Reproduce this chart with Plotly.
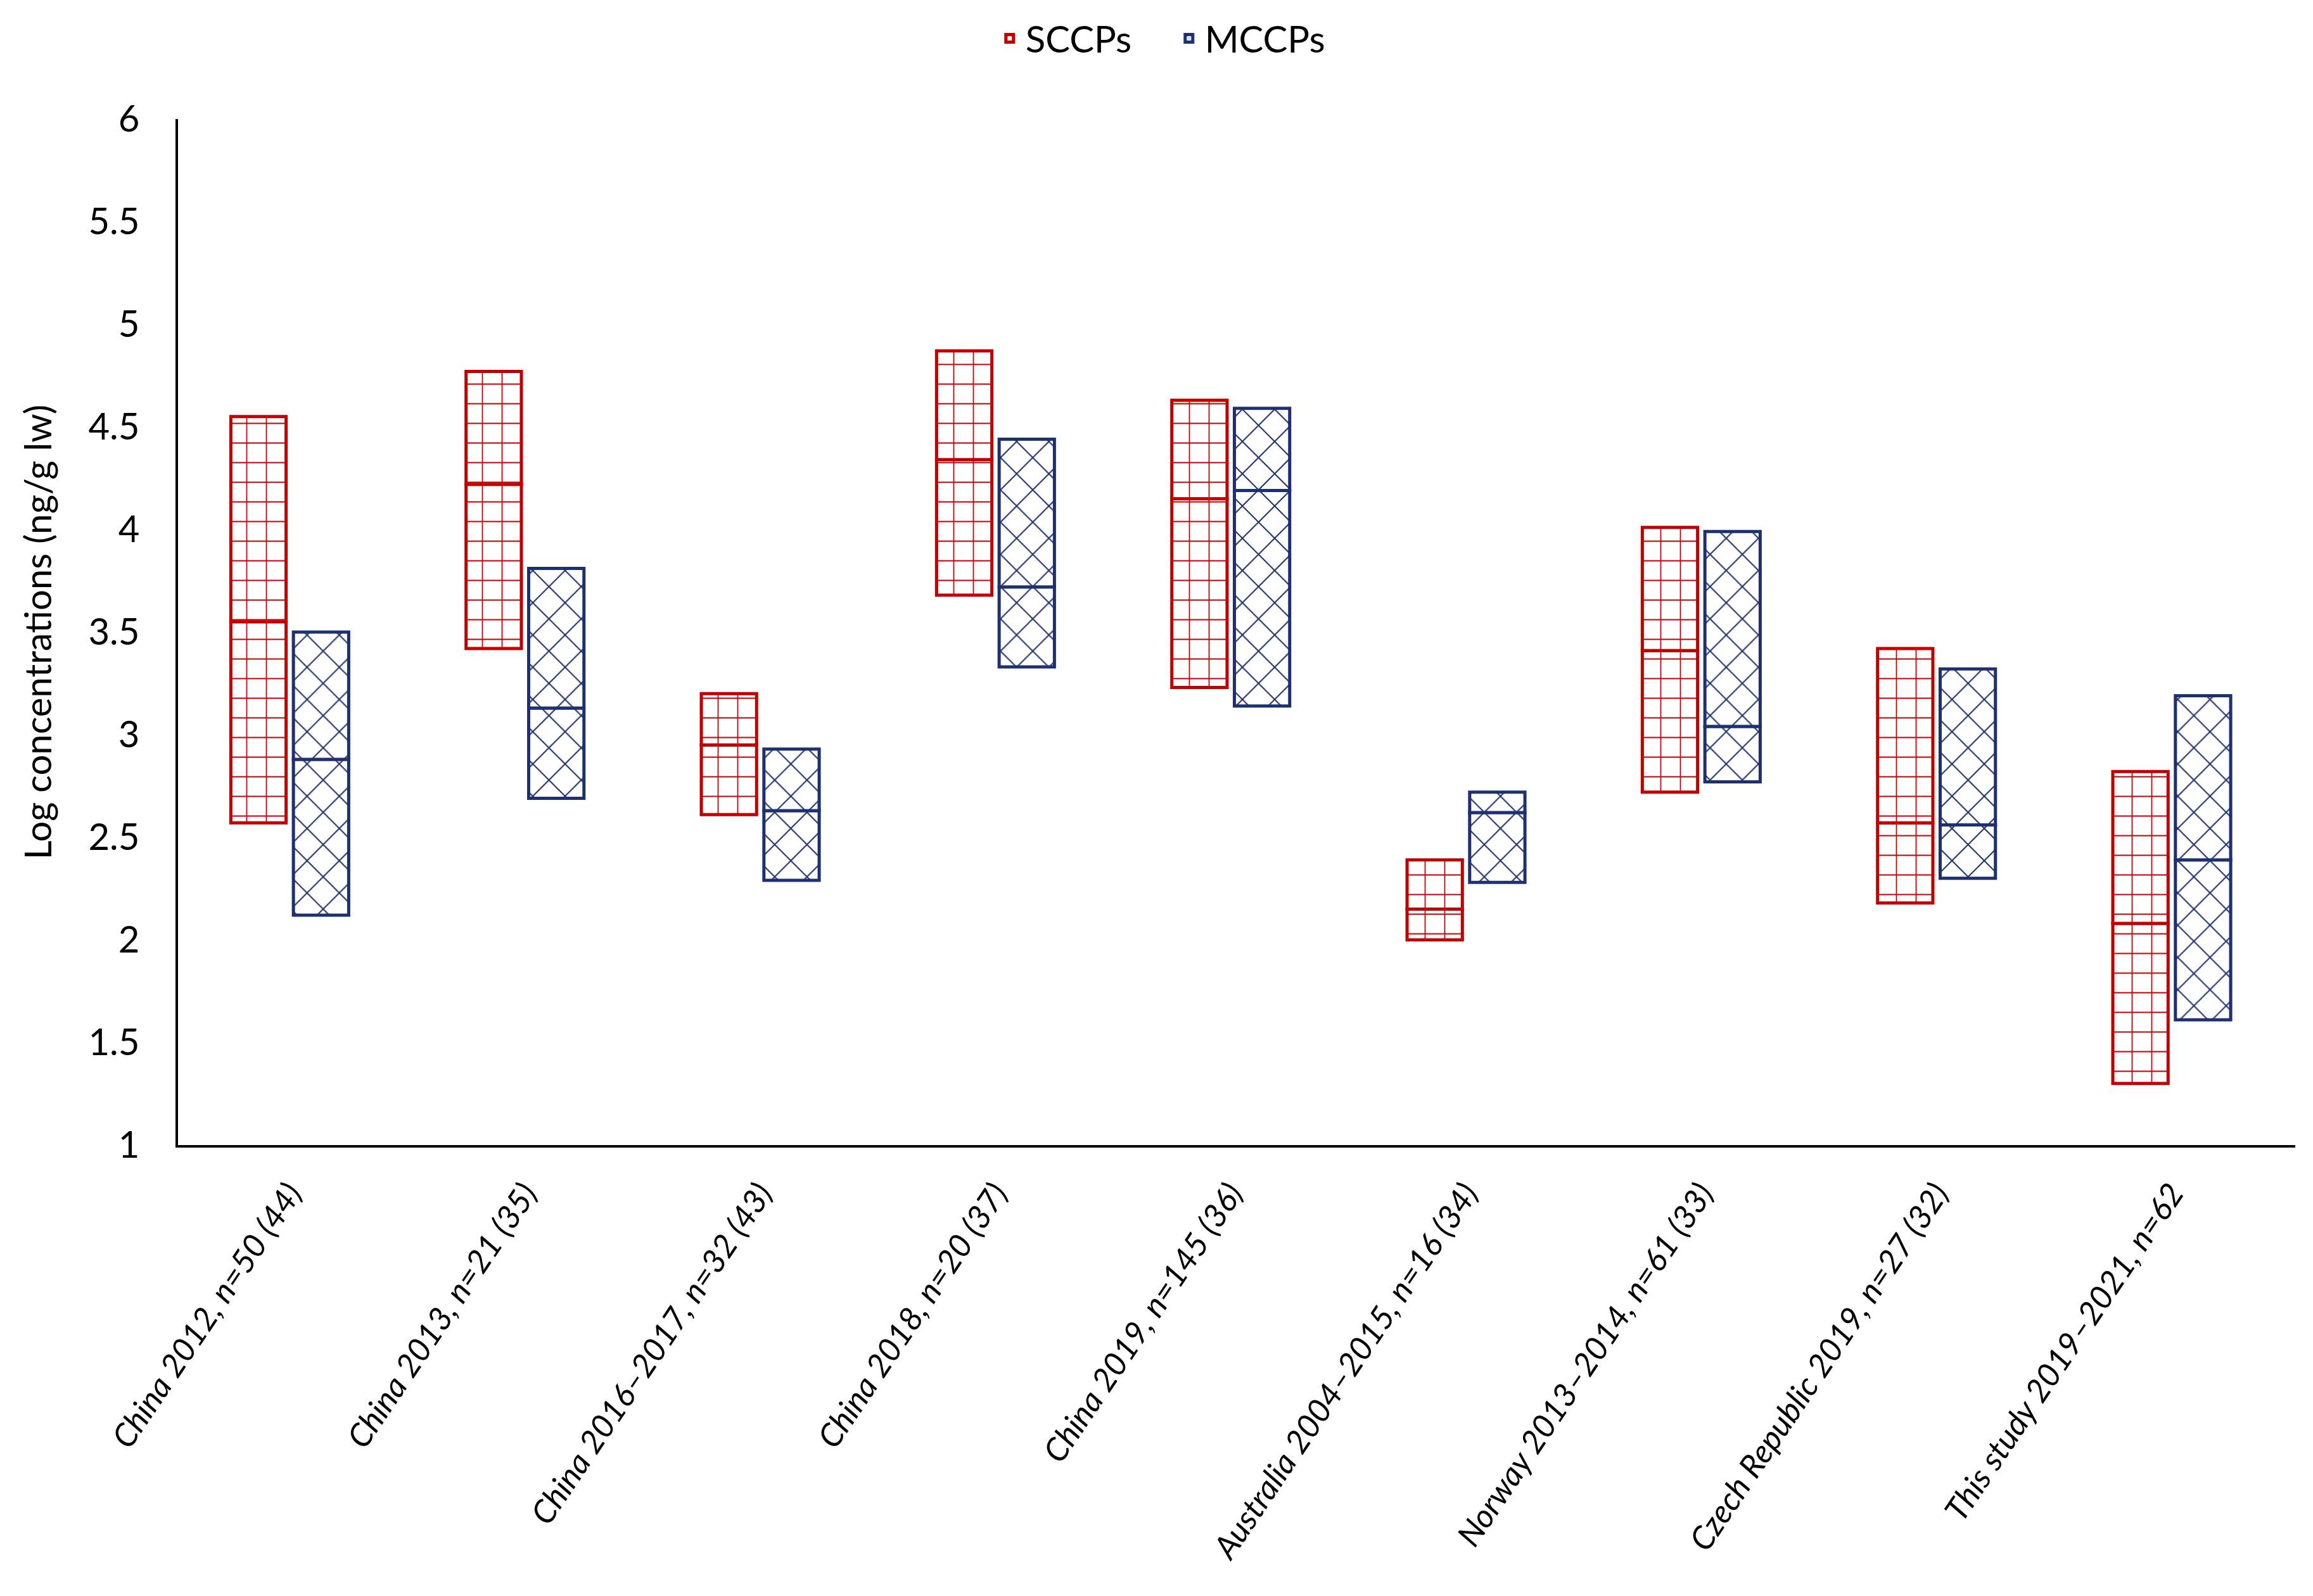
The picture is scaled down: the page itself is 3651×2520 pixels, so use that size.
import plotly.graph_objects as go

categories = [
    "China 2012, n=50 (44)",
    "China 2013, n=21 (35)",
    "China 2016–2017, n=32 (43)",
    "China 2018, n=20 (37)",
    "China 2019, n=145 (36)",
    "Australia 2004–2015, n=16 (34)",
    "Norway 2013–2014, n=61 (33)",
    "Czech Republic 2019, n=27 (32)",
    "This study 2019–2021, n=62",
]

sccp_low = [2.57, 3.42, 2.61, 3.68, 3.23, 2.00, 2.72, 2.18, 1.30]
sccp_med = [3.55, 4.22, 2.95, 4.34, 4.15, 2.15, 3.41, 2.57, 2.08]
sccp_high = [4.55, 4.77, 3.20, 4.87, 4.63, 2.39, 4.01, 3.42, 2.82]

mccp_low = [2.12, 2.69, 2.29, 3.33, 3.14, 2.28, 2.77, 2.30, 1.61]
mccp_med = [2.88, 3.13, 2.63, 3.72, 4.19, 2.62, 3.04, 2.56, 2.39]
mccp_high = [3.50, 3.81, 2.93, 4.44, 4.59, 2.72, 3.99, 3.32, 3.19]

RED = "#C00000"
NAVY = "#1F3070"
FONT = "Lato"

x_idx = list(range(len(categories)))
offset = 0.133
bw = 0.235

fig = go.Figure()


def add_series(name, low, med, high, color, shape, size, dx):
    xs = [i + dx for i in x_idx]
    common = dict(
        x=xs,
        width=bw,
        marker=dict(
            color="white",
            line=dict(color=color, width=5),
            pattern=dict(shape=shape, fgcolor=color, bgcolor="white",
                         size=size, solidity=0.11, fillmode="replace"),
        ),
        legendgroup=name,
        hoverinfo="skip",
    )
    fig.add_trace(go.Bar(name=name, base=low,
                         y=[m - l for m, l in zip(med, low)],
                         showlegend=True, **common))
    fig.add_trace(go.Bar(name=name, base=med,
                         y=[h - m for h, m in zip(high, med)],
                         showlegend=False, **common))


add_series("SCCPs", sccp_low, sccp_med, sccp_high, RED, "+", 31, -offset)
add_series("MCCPs", mccp_low, mccp_med, mccp_high, NAVY, "x", 36, offset)

fig.update_layout(
    width=3651,
    height=2520,
    paper_bgcolor="white",
    plot_bgcolor="white",
    barmode="overlay",
    margin=dict(l=273, r=36, t=180, b=720),
    font=dict(family=FONT, size=58, color="black"),
    legend=dict(orientation="h", xref="container", x=0.505, xanchor="center",
                yref="container", y=0.979, yanchor="middle",
                font=dict(size=58), traceorder="normal",
                itemwidth=40, entrywidth=228),
    xaxis=dict(
        range=[-0.475, len(categories) - 0.475],
        tickmode="array",
        tickvals=x_idx,
        ticktext=["<i>" + c + "</i>" for c in categories],
        tickangle=-56,
        tickfont=dict(size=51, family=FONT),
        showline=True, linecolor="black", linewidth=4,
        showgrid=False, zeroline=False, ticks="",
        ticklabelstandoff=22,
    ),
    yaxis=dict(
        range=[1, 6],
        dtick=0.5,
        tickfont=dict(size=58, family=FONT),
        showline=True, linecolor="black", linewidth=4,
        showgrid=False, zeroline=False, ticks="",
        ticklabelstandoff=45,
        title=dict(text="Log concentrations (ng/g lw)",
                   font=dict(size=58, family=FONT), standoff=40),
    ),
)

fig.write_html("out.html")
